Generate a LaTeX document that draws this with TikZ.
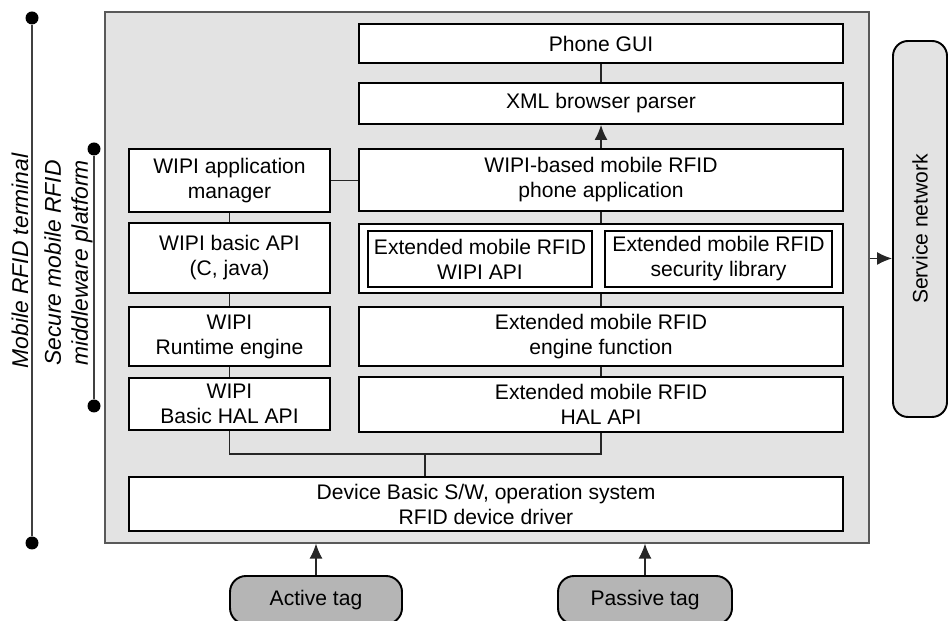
\documentclass[tikz,border=0pt]{standalone}
\usepackage{fontspec}
\setmainfont{Liberation Sans}
\usetikzlibrary{
    arrows.meta,
    calc
}

\begin{document}
\begin{tikzpicture}[
    layerbox/.style={draw, line width=1.1pt, fill=white, align=center, inner sep=0pt},
    tagbox/.style={draw, line width=1.1pt, fill=gray!58, rounded corners=0.32cm, inner sep=0pt},
    wire/.style={line width=0.8pt, black!85},
    wirearrow/.style={wire, -{Latex[length=3mm,width=2.6mm]}},
    spanline/.style={line width=0.9pt, black!75},
    spandot/.style={circle, fill=black, inner sep=0pt, minimum size=0.26cm},
    font=\fontsize{12}{14.2}\selectfont
]

\useasboundingbox (0,0) rectangle (19,12.42);
\clip (0,0) rectangle (19,12.42);

% Terminal frame
\node[draw=black!65, line width=0.7pt, fill=gray!22, minimum width=15.28cm, minimum height=10.62cm, inner sep=0pt]
  (frame) at (9.74,6.87) {};

% Right stack
\node[layerbox, minimum width=9.68cm, minimum height=0.78cm] (gui) at (12.02,11.55) {Phone GUI};
\node[layerbox, minimum width=9.68cm, minimum height=0.82cm] (xml) at (12.02,10.35) {XML browser parser};
\node[layerbox, minimum width=9.68cm, minimum height=1.24cm] (mrapp) at (12.02,8.82) {WIPI-based mobile RFID\\phone application};
\node[layerbox, minimum width=9.68cm, minimum height=1.38cm] (extbox) at (12.02,7.25) {};
\node[layerbox, minimum width=4.48cm, minimum height=1.12cm] (extapi) at (9.60,7.24) {Extended mobile RFID\\WIPI API};
\node[layerbox, minimum width=4.54cm, minimum height=1.12cm] (extsec) at (14.37,7.24) {Extended mobile RFID\\security library};
\node[layerbox, minimum width=9.68cm, minimum height=1.18cm] (engine) at (12.02,5.69) {Extended mobile RFID\\engine function};
\node[layerbox, minimum width=9.68cm, minimum height=1.10cm] (exthal) at (12.02,4.33) {Extended mobile RFID\\HAL API};

% Left stack
\node[layerbox, minimum width=4.02cm, minimum height=1.26cm] (wipimgr) at (4.59,8.81) {WIPI application\\manager};
\node[layerbox, minimum width=4.02cm, minimum height=1.40cm] (basicapi) at (4.59,7.26) {WIPI basic API\\(C, java)};
\node[layerbox, minimum width=4.02cm, minimum height=1.18cm] (runtime) at (4.59,5.69) {WIPI\\Runtime engine};
\node[layerbox, minimum width=4.02cm, minimum height=1.04cm] (basichal) at (4.59,4.34) {WIPI\\Basic HAL API};

% Device layer
\node[layerbox, minimum width=14.28cm, minimum height=1.08cm] (device) at (9.72,2.34) {Device Basic S/W, operation system\\RFID device driver};

% Links inside the frame
\draw[wire] (gui.south) -- (xml.north);
\draw[wirearrow] (mrapp.north) -- (xml.south);
\draw[wire] (wipimgr.east) -- (mrapp.west |- wipimgr.east);
\draw[wire] (mrapp.south) -- (extbox.north);
\draw[wire] (extbox.south) -- (engine.north);
\draw[wire] (engine.south) -- (exthal.north);
\draw[wire] (wipimgr.south) -- (basicapi.north);
\draw[wire] (basicapi.south) -- (runtime.north);
\draw[wire] (runtime.south) -- (basichal.north);
\coordinate (bus) at (8.5,3.34);
\draw[wire] (basichal.south) |- (bus) -| (exthal.south);
\draw[wire] (bus) -- (bus |- device.north);

% Service network
\node[draw, line width=1.1pt, fill=gray!22, rounded corners=0.3cm, minimum width=1.08cm, minimum height=7.52cm, inner sep=0pt]
  (svc) at (18.40,7.84) {\rotatebox{90}{Service network}};
\draw[wirearrow] (frame.east |- extbox.east) -- (svc.west |- extbox.east);

% Tags
\node[tagbox, minimum width=3.44cm, minimum height=0.96cm] (atag) at (6.32,0.42) {Active tag};
\node[tagbox, minimum width=3.48cm, minimum height=0.96cm] (ptag) at (12.90,0.42) {Passive tag};
\draw[wirearrow] (atag.north) -- (atag.north |- frame.south);
\draw[wirearrow] (ptag.north) -- (ptag.north |- frame.south);

% Span markers
\node[spandot] (termtop) at (0.64,12.06) {};
\node[spandot] (termbot) at (0.64,1.56) {};
\draw[spanline] (termtop) -- (termbot);
\node[rotate=90, font=\fontsize{13}{15.3}\selectfont\itshape] (termlabel) at (0.40,7.20) {Mobile RFID terminal};

\node[spandot] (mwtop) at (1.88,9.44) {};
\node[spandot] (mwbot) at (1.88,4.30) {};
\draw[spanline] (mwtop) -- (mwbot);
\node[rotate=90, align=center, font=\fontsize{13}{15.3}\selectfont\itshape] (mwlabel) at (1.37,7.16) {Secure mobile RFID\\middleware platform};

\end{tikzpicture}
\end{document}
